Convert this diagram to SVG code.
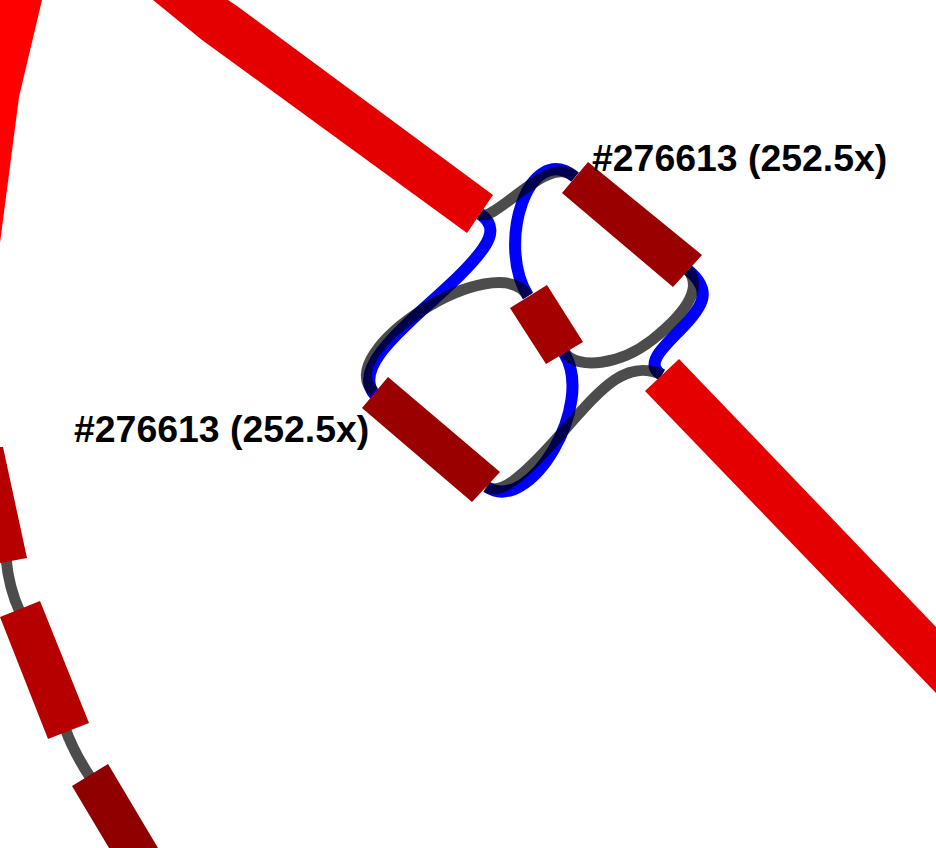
<svg xmlns="http://www.w3.org/2000/svg" width="936" height="848" viewBox="0 0 936 848">
<style>
.blue{fill:none;stroke:#0000ff;stroke-width:12;stroke-linecap:butt}
.gray{fill:none;stroke:#000000;stroke-opacity:0.7;stroke-width:11;stroke-linecap:butt}
.lbl{font-family:"Liberation Sans",Arial,sans-serif;font-weight:bold;font-size:37.4px;fill:#000000}
</style>
<rect width="936" height="848" fill="#ffffff"/>
<g id="connectors">
<path class="blue" d="M480,214 C500,228 490,245 460,275 C420,315 348,365 375,395"/>
<path class="blue" d="M575,177 C528,140 496,245 528,296"/>
<path class="blue" d="M564,353 C596,404 530,515 487,487"/>
<path class="blue" d="M688,270 C712,290 705,305 680,330 C660,350 645,365 662,375"/>
<path class="gray" d="M480,214 C495,224 548,152 575,177"/>
<path class="gray" d="M374,392 C329,353 496,245 528,296"/>
<path class="gray" d="M486,487 C500,495 520,480 560,435 C600,390 625,358 662,375"/>
<path class="gray" d="M565,353 C578,370 620,365 652,340 C680,318 705,290 688,270"/>
<path class="gray" d="M6,558 C8,580 12,595 20,612"/>
<path class="gray" d="M65,728 C72,748 80,762 92,780"/>
</g>
<g id="node-left-top"><polygon points="0,0 42,0 19,97 0,243" fill="#ff0000"/></g>
<g id="node-A"><polygon points="153,0 228,0 237,6 493,195 467,233 202,40" fill="#e40000"/></g>
<g id="node-E"><polygon points="679,359 645,391 986,745 986,679" fill="#e40000"/></g>
<g id="node-B"><polygon points="588,162 702,255 673,287 562,193" fill="#9b0000"/></g>
<g id="node-D"><polygon points="388,377 500,472 472,502 362,408" fill="#9b0000"/></g>
<g id="node-C"><polygon points="510,308 547,285 583,342 546,364" fill="#a50000"/></g>
<g id="node-L1"><polygon points="0,447 3,447 27,558 0,563" fill="#b60000"/></g>
<g id="node-L2"><polygon points="0,617 40,601 89,723 48,739" fill="#b60000"/></g>
<g id="node-L3"><polygon points="72,786 108,764 158,848 109,848" fill="#900000"/></g>
<g id="labels">
<text class="lbl" x="592" y="171">#276613 (252.5x)</text>
<text class="lbl" x="74" y="442">#276613 (252.5x)</text>
</g>
</svg>
